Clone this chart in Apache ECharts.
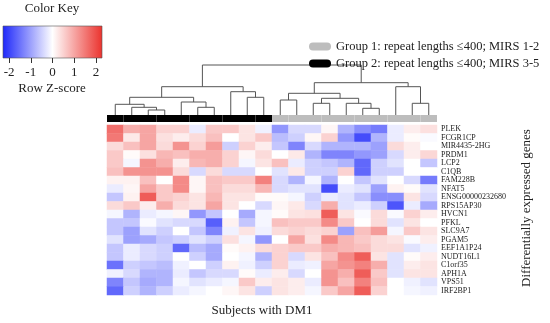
<!DOCTYPE html>
<html><head><meta charset="utf-8">
<script src="https://cdn.jsdelivr.net/npm/echarts@6/dist/echarts.min.js"></script>
<style>html,body{margin:0;padding:0;background:#fff}#c{width:550px;height:323px}</style>
</head><body><div id="c"></div>
<script>
// ---- data ----
const genes = ['PLEK','FCGR1CP','MIR4435-2HG','PRDM1','LCP2','C1QB','FAM228B','NFAT5','ENSG00000232680','RPS15AP30','HVCN1','PFKL','SLC9A7','PGAM5','EEF1A1P24','NUDT16L1','C1orf35','APH1A','VPS51','IRF2BP1'];
const subjects = ['S1','S2','S3','S4','S5','S6','S7','S8','S9','S10','S11','S12','S13','S14','S15','S16','S17','S18','S19','S20'];
const subjectGroup = [2,2,2,2,2,2,2,2,2,2,1,1,1,1,1,1,1,1,1,1];
const groupNames = ['Group 1: repeat lengths \u2264400; MIRS 1-2','Group 2: repeat lengths \u2264400; MIRS 3-5'];

const zPLEK      = [1.6,0.9,1.0,0.5,0.5,-0.2,0.6,0.6,0.3,-0.15,-1.1,-0.4,-0.4,0.1,-0.8,-1.2,-1.4,-0.2,0.2,0.35];
const zFCGR1CP   = [1.5,0.25,1.0,0.35,0.2,0.4,0.7,0.0,0.3,0.6,-0.7,-0.5,0.1,0.5,-1.1,-1.9,-0.8,-0.2,0.05,-0.05];
const zMIR4435   = [0.4,0.7,1.0,0.4,1.2,0.5,1.1,-0.5,0.5,0.2,-0.6,-1.3,-0.4,-0.8,-0.8,-0.8,-1.0,0.4,0.2,0.0];
const zPRDM1     = [0.6,0.05,0.35,0.8,0.7,0.9,0.9,0.5,0.1,0.4,0.0,0.25,-0.8,-1.3,-1.3,-1.1,-1.0,-0.4,0.2,0.45];
const zLCP2      = [0.6,-0.1,1.2,0.9,0.2,0.8,0.9,0.5,-0.1,0.3,0.7,-0.2,-0.5,-0.6,-0.8,-1.6,-0.5,-0.3,0.0,-0.6];
const zC1QB      = [0.7,1.2,1.2,1.2,0.4,-0.4,0.4,-0.4,-0.4,0.0,-0.3,0.25,-0.5,-0.5,0.5,-1.6,-0.5,-0.5,0.0,0.0];
const zFAM228B   = [0.15,0.15,0.7,0.0,1.3,0.1,0.7,0.6,0.6,1.4,-0.4,-0.8,-0.1,-0.8,0.0,-0.6,-0.3,0.0,-0.4,-1.4];
const zNFAT5     = [-0.2,0.1,1.0,0.6,1.3,0.1,0.7,0.4,0.4,0.8,-0.4,-0.3,-0.3,-1.9,-0.2,-0.3,-1.0,0.15,0.05,-0.3];
const zENSG      = [-0.6,0.15,1.8,0.6,0.5,0.3,0.8,0.3,0.3,0.05,0.05,-0.1,-0.5,-0.2,-0.3,-0.6,-1.2,-1.2,0.3,-0.4];
const zRPS15AP30 = [0.4,0.6,0.2,0.9,0.4,0.3,1.0,0.3,0.0,-0.4,0.1,0.25,-0.4,0.9,-0.3,-0.2,-0.5,-1.8,-0.2,-0.9];
const zHVCN1     = [-0.1,-0.8,-0.2,-0.1,0.1,-1.1,-0.6,0.0,-0.9,-0.1,0.05,0.3,0.35,1.8,0.3,-0.05,0.4,-0.05,0.5,0.2];
const zPFKL      = [-0.6,-0.6,-0.05,-0.3,-0.4,-0.4,-1.7,0.15,-0.6,-0.1,0.7,0.6,0.6,1.3,0.6,0.0,0.4,-0.3,0.3,0.0];
const zSLC9A7    = [-0.6,-1.0,-0.3,-0.5,0.0,-0.6,-1.3,-0.15,0.3,-0.15,0.4,0.5,0.4,0.5,-1.0,0.7,1.1,-0.1,0.6,0.3];
const zPGAM5     = [-0.3,-1.0,-0.9,-0.6,-0.5,-0.3,-0.5,0.35,-0.1,-1.1,0.0,1.0,0.35,1.3,0.8,0.6,0.4,0.3,-0.05,0.2];
const zEEF1A1P24 = [-0.6,-0.2,-0.4,-0.5,-1.6,-0.7,-0.9,0.05,0.15,0.4,0.5,0.6,0.6,0.9,0.8,0.7,0.4,0.4,-0.3,-0.15];
const zNUDT16L1  = [-0.6,-0.2,-0.4,-0.5,0.0,-0.5,-0.9,0.0,-0.1,-0.8,0.5,-0.4,0.3,0.7,1.3,1.8,0.3,-0.3,0.05,0.2];
const zC1orf35   = [-1.5,-0.5,-0.6,-0.7,-0.15,0.0,-0.5,0.15,-0.15,-0.5,0.5,-0.2,-0.15,1.0,1.2,1.4,0.9,-0.3,0.2,0.3];
const zAPH1A     = [-0.15,-0.4,-0.8,-0.8,-0.2,-0.6,-0.4,-0.4,0.05,-0.2,0.2,-0.4,0.0,1.2,0.9,1.8,0.6,-0.3,0.3,0.3];
const zVPS51     = [-1.3,-0.6,-0.9,-0.8,-0.1,-0.3,-0.2,-0.1,0.6,0.2,0.3,0.2,-0.2,1.2,0.7,1.4,0.7,0.0,-0.15,-0.3];
const zIRF2BP1   = [-1.6,-0.5,-0.8,-0.5,-0.2,-0.1,0.0,0.1,0.3,-0.5,0.3,0.2,-0.1,0.6,1.0,1.8,0.5,0.0,-0.1,-0.15];
const zRows = [zPLEK,zFCGR1CP,zMIR4435,zPRDM1,zLCP2,zC1QB,zFAM228B,zNFAT5,zENSG,zRPS15AP30,zHVCN1,zPFKL,zSLC9A7,zPGAM5,zEEF1A1P24,zNUDT16L1,zC1orf35,zAPH1A,zVPS51,zIRF2BP1];

// column dendrogram, hclust-style merges: negative = leaf (subject index+1), positive = earlier merge
const dendroMerges = [
  [-3,-4,5],[-2,1,7.7],[-1,2,10.7],[-6,-7,7.7],[-5,4,13],[3,5,17.7],
  [-9,-10,17.7],[-8,7,23.3],[6,8,28.3],
  [-16,-17,6.7],[-15,10,11.7],[-13,-14,11.7],[12,11,16.7],[-11,-12,15],[14,13,21.7],
  [-19,-20,11.7],[-18,16,28.3],[15,17,32.3],[9,18,50]
];
const keyTicks = [-2,-1,0,1,2];
const zRange = [-2.28, 2.28];

// ---- build ----
const heatData = [];
zRows.forEach((row, r) => row.forEach((v, c) => heatData.push([c, r, v])));

const nodeX = [], nodeH = [];
const dendroData = dendroMerges.map(([a, b, h], i) => {
  const get = k => k < 0 ? [-k - 1, 0] : [nodeX[k - 1], nodeH[k - 1]];
  const [xa, ha] = get(a), [xb, hb] = get(b);
  nodeX[i] = (xa + xb) / 2; nodeH[i] = h;
  return [xa, ha, xb, hb, h];
});

const cBlue = '#1e28fa', cWhite = '#ffffff', cRed = '#eb322d';
const serif = 'Liberation Serif';
const chart = echarts.init(document.getElementById('c'), null, {renderer: 'canvas'});

const barItem = (params, api) => {
  const x = api.value(0);
  const a = api.coord([x - 0.5, 1]), b = api.coord([x + 0.5, 0]);
  return {type: 'rect', shape: {x: a[0], y: a[1], width: b[0] - a[0], height: b[1] - a[1]}, style: {fill: api.visual('color')}};
};

chart.setOption({
  animation: false,
  grid: [
    {left: 107, top: 125, width: 330, height: 170},
    {left: 107, top: 65, width: 330, height: 50},
    {left: 107, top: 115, width: 330, height: 7},
    {left: 3, top: 26, width: 99, height: 32, show: true, borderColor: '#555', borderWidth: 0.6,
     backgroundColor: new echarts.graphic.LinearGradient(0, 0, 1, 0, [
       {offset: 0, color: cBlue}, {offset: 0.5, color: cWhite}, {offset: 1, color: cRed}])}
  ],
  xAxis: [
    {type: 'category', data: subjects, gridIndex: 0, show: false},
    {type: 'value', gridIndex: 1, min: -0.5, max: 19.5, show: false},
    {type: 'value', gridIndex: 2, min: -0.5, max: 19.5, show: false},
    {type: 'value', gridIndex: 3, min: zRange[0], max: zRange[1],
     axisLine: {show: false}, splitLine: {show: false},
     axisTick: {show: true, customValues: keyTicks, length: 5, lineStyle: {color: '#333'}},
     axisLabel: {customValues: keyTicks, margin: 8, fontFamily: serif, fontSize: 13, color: '#222',
                 formatter: v => (v < 0 ? '-' + Math.abs(v) : String(v))}}
  ],
  yAxis: [
    {type: 'category', data: genes, gridIndex: 0, inverse: true, position: 'right',
     axisLine: {show: false}, axisTick: {show: false},
     axisLabel: {interval: 0, margin: 4, fontFamily: serif, fontSize: 8, color: '#1a1a1a'}},
    {type: 'value', gridIndex: 1, min: 0, max: 50, show: false},
    {type: 'value', gridIndex: 2, min: 0, max: 1, show: false},
    {type: 'value', gridIndex: 3, min: 0, max: 1, show: false}
  ],
  visualMap: {show: false, type: 'continuous', min: zRange[0], max: zRange[1], seriesIndex: 0,
              inRange: {color: [cBlue, cWhite, cRed]}},
  legend: {
    data: groupNames, orient: 'vertical', left: 304, top: 35, itemWidth: 22, itemHeight: 8, itemGap: 4,
    selectedMode: false, icon: 'path://M4,0 H18 A4,4 0 0 1 18,8 H4 A4,4 0 0 1 4,0 Z',
    textStyle: {fontFamily: serif, fontSize: 12.5, color: '#222'}
  },
  graphic: [
    {type: 'text', x: 52, y: 9, style: {text: 'Color Key', fontFamily: serif, fontSize: 13, fill: '#222', align: 'center', verticalAlign: 'middle'}},
    {type: 'text', x: 52, y: 89, style: {text: 'Row Z-score', fontFamily: serif, fontSize: 13, fill: '#222', align: 'center', verticalAlign: 'middle'}},
    {type: 'text', x: 262, y: 311, style: {text: 'Subjects with DM1', fontFamily: serif, fontSize: 13, fill: '#222', align: 'center', verticalAlign: 'middle'}},
    {type: 'text', x: 527, y: 208, rotation: Math.PI / 2, style: {text: 'Differentially expressed genes', fontFamily: serif, fontSize: 13, fill: '#222', align: 'center', verticalAlign: 'middle'}}
  ],
  series: [
    {type: 'heatmap', xAxisIndex: 0, yAxisIndex: 0, data: heatData, itemStyle: {borderWidth: 0}},
    {type: 'custom', xAxisIndex: 1, yAxisIndex: 1, data: dendroData, silent: true,
     renderItem: (params, api) => {
       const p1 = api.coord([api.value(0), api.value(1)]);
       const p2 = api.coord([api.value(0), api.value(4)]);
       const p3 = api.coord([api.value(2), api.value(4)]);
       const p4 = api.coord([api.value(2), api.value(3)]);
       return {type: 'polyline', shape: {points: [p1, p2, p3, p4]}, style: {stroke: '#555', lineWidth: 1, fill: null}};
     }},
    {type: 'custom', name: groupNames[0], xAxisIndex: 2, yAxisIndex: 2, itemStyle: {color: '#bdbdbd'},
     data: subjectGroup.map((g, i) => g === 1 ? [i, 0] : null).filter(d => d), renderItem: barItem},
    {type: 'custom', name: groupNames[1], xAxisIndex: 2, yAxisIndex: 2, itemStyle: {color: '#000000'},
     data: subjectGroup.map((g, i) => g === 2 ? [i, 0] : null).filter(d => d), renderItem: barItem}
  ]
});
</script></body></html>
